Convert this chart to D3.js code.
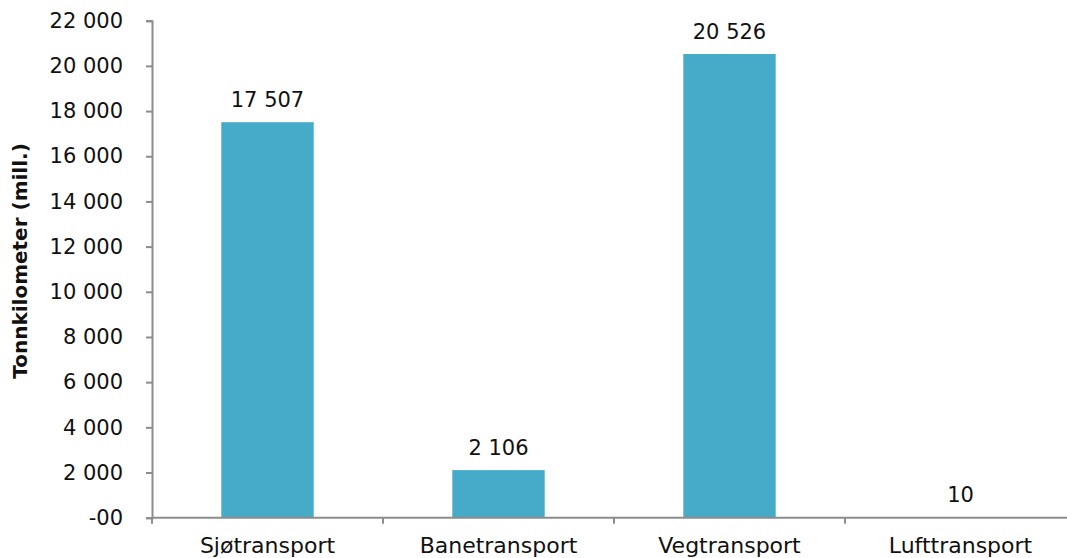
<!DOCTYPE html>
<html>
<head>
<meta charset="utf-8">
<script src="https://cdn.jsdelivr.net/npm/d3@7"></script>
<style>
  html, body { margin: 0; padding: 0; background: #fff; }
  svg { display: block; font-family: Verdana, 'DejaVu Sans', sans-serif; }
</style>
</head>
<body>
<svg id="chart" width="1067" height="558"></svg>
<script>
// data
const categories = ['Sjøtransport', 'Banetransport', 'Vegtransport', 'Lufttransport'];
const values = [17507, 2106, 20526, 10];
const yTicks = [0, 2000, 4000, 6000, 8000, 10000, 12000, 14000, 16000, 18000, 20000, 22000];
const yTitle = 'Tonnkilometer (mill.)';

const width = 1067;
const height = 558;
const margin = { top: 20.7, right: -9, bottom: 40.3, left: 152 };

const svg = d3.select('#chart');

const x = d3.scaleBand()
  .domain(categories)
  .range([margin.left, width - margin.right])
  .paddingInner(0.6)
  .paddingOuter(0.3);

const y = d3.scaleLinear()
  .domain([0, 22000])
  .range([height - margin.bottom, margin.top]);

// number format with space as thousands separator, zero shown as "-00"
const fmt = v => v === 0 ? '-00' : d3.format(',')(v).replace(/,/g, ' ');

const axisColor = '#8c8c8c';

// bars
svg.append('g')
  .selectAll('rect')
  .data(values)
  .join('rect')
    .attr('x', (d, i) => x(categories[i]))
    .attr('y', d => y(d))
    .attr('width', x.bandwidth())
    .attr('height', d => y(0) - y(d))
    .attr('fill', '#46aac9');

// value labels
svg.append('g')
  .selectAll('text')
  .data(values)
  .join('text')
    .attr('x', (d, i) => x(categories[i]) + x.bandwidth() / 2)
    .attr('y', d => y(d) - 15)
    .attr('text-anchor', 'middle')
    .attr('font-size', 21)
    .attr('fill', '#111')
    .text(d => fmt(d));

// y axis
const yAxis = svg.append('g')
  .attr('transform', `translate(${margin.left},0)`)
  .call(d3.axisLeft(y).tickValues(yTicks).tickFormat(fmt).tickSize(6).tickPadding(23));
yAxis.attr('font-family', null).attr('font-size', null);
yAxis.select('.domain').attr('stroke', axisColor).attr('stroke-width', 2);
yAxis.selectAll('.tick line').attr('stroke', axisColor).attr('stroke-width', 2);
yAxis.selectAll('.tick text')
  .attr('font-size', 21)
  .attr('fill', '#111');

// x axis
const step = x.step();
const xAxis = svg.append('g')
  .attr('transform', `translate(0,${y(0)})`);
xAxis.append('line')
  .attr('x1', margin.left)
  .attr('x2', width - margin.right)
  .attr('stroke', axisColor)
  .attr('stroke-width', 2);
xAxis.selectAll('line.tick')
  .data(d3.range(categories.length + 1))
  .join('line')
    .attr('class', 'tick')
    .attr('x1', i => margin.left + i * step)
    .attr('x2', i => margin.left + i * step)
    .attr('y1', 0)
    .attr('y2', 6)
    .attr('stroke', axisColor)
    .attr('stroke-width', 2);
xAxis.selectAll('text')
  .data(categories)
  .join('text')
    .attr('x', d => x(d) + x.bandwidth() / 2)
    .attr('y', 35)
    .attr('text-anchor', 'middle')
    .attr('font-size', 22)
    .attr('fill', '#111')
    .text(d => d);

// y title
svg.append('text')
  .attr('transform', `translate(27,261) rotate(-90)`)
  .attr('text-anchor', 'middle')
  .attr('font-size', 20)
  .attr('font-weight', 'bold')
  .attr('fill', '#111')
  .text(yTitle);
</script>
</body>
</html>
